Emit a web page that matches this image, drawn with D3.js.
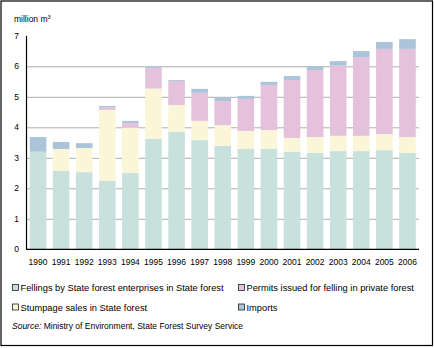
<!DOCTYPE html>
<html>
<head>
<meta charset="utf-8">
<script src="https://cdn.jsdelivr.net/npm/d3@7"></script>
<style>
  body { margin: 0; background: #fff; }
  svg { display: block; font-family: "Liberation Sans", Arial, sans-serif; }
</style>
</head>
<body>
<div id="chart"></div>
<script>
var years = ["1990", "1991", "1992", "1993", "1994", "1995", "1996", "1997", "1998",
             "1999", "2000", "2001", "2002", "2003", "2004", "2005", "2006"];

// million m3 per year
var fellings = [3.20, 2.57, 2.53, 2.24, 2.50, 3.62, 3.85, 3.58, 3.39, 3.29, 3.29, 3.19, 3.16, 3.22, 3.22, 3.25, 3.16];
var stumpage = [0.00, 0.72, 0.79, 2.33, 1.49, 1.65, 0.88, 0.63, 0.68, 0.59, 0.62, 0.46, 0.52, 0.50, 0.50, 0.53, 0.52];
var permits  = [0.00, 0.00, 0.00, 0.09, 0.15, 0.68, 0.79, 0.92, 0.79, 1.05, 1.48, 1.90, 2.20, 2.30, 2.58, 2.79, 2.89];
var imports  = [0.48, 0.23, 0.16, 0.04, 0.07, 0.05, 0.03, 0.13, 0.12, 0.10, 0.10, 0.13, 0.13, 0.15, 0.20, 0.23, 0.32];

var yTicks = [0, 1, 2, 3, 4, 5, 6, 7];

var series = [
  { key: "fellings", label: "Fellings by State forest enterprises in State forest", color: "#c9e1dd", values: fellings },
  { key: "stumpage", label: "Stumpage sales in State forest", color: "#faf6d7", values: stumpage },
  { key: "permits",  label: "Permits issued for felling in private forest", color: "#e5c2dc", values: permits },
  { key: "imports",  label: "Imports", color: "#abc4da", values: imports }
];

var W = 434, H = 348;

var svg = d3.select("#chart").append("svg")
  .attr("width", W)
  .attr("height", H);

svg.append("rect")
  .attr("x", 1).attr("y", 1)
  .attr("width", 431.5).attr("height", 344.5)
  .attr("fill", "#fff")
  .attr("stroke", "#000")
  .attr("stroke-width", 1.2);

var rows = years.map(function (yr, i) {
  var r = { year: yr };
  series.forEach(function (s) { r[s.key] = s.values[i]; });
  return r;
});

var stack = d3.stack().keys(series.map(function (s) { return s.key; }))(rows);

var x = d3.scaleBand()
  .domain(years)
  .range([26.5, 419])
  .paddingInner(0.28)
  .paddingOuter(0.14);

var y = d3.scaleLinear()
  .domain([0, 7])
  .range([249.3, 35.8]);

// gridlines
svg.append("g")
  .selectAll("line")
  .data(yTicks.filter(function (d) { return d > 0 && d < 7; }))
  .join("line")
  .attr("x1", 26.5).attr("x2", 419)
  .attr("y1", function (d) { return y(d) + 0.5; })
  .attr("y2", function (d) { return y(d) + 0.5; })
  .attr("stroke", "#adadad")
  .attr("stroke-width", 1);

// stacked bars
svg.append("g")
  .selectAll("g")
  .data(stack)
  .join("g")
  .attr("fill", function (d, i) { return series[i].color; })
  .selectAll("rect")
  .data(function (d) { return d; })
  .join("rect")
  .attr("x", function (d) { return x(d.data.year); })
  .attr("width", x.bandwidth())
  .attr("y", function (d) { return y(d[1]); })
  .attr("height", function (d) { return y(d[0]) - y(d[1]); });

// axes
svg.append("line")
  .attr("x1", 26.5).attr("x2", 26.5)
  .attr("y1", y(7)).attr("y2", y(0))
  .attr("stroke", "#000").attr("stroke-width", 1.2);
svg.append("line")
  .attr("x1", 26).attr("x2", 419)
  .attr("y1", y(0)).attr("y2", y(0))
  .attr("stroke", "#000").attr("stroke-width", 1.2);

svg.append("g")
  .selectAll("text")
  .data(yTicks)
  .join("text")
  .attr("x", 19)
  .attr("y", function (d) { return y(d) + 3; })
  .attr("text-anchor", "end")
  .attr("font-size", 8.5)
  .text(function (d) { return d; });

svg.append("g")
  .selectAll("text")
  .data(years)
  .join("text")
  .attr("x", function (d) { return x(d) + x.bandwidth() / 2; })
  .attr("y", 264.5)
  .attr("text-anchor", "middle")
  .attr("font-size", 8.5)
  .text(function (d) { return d; });

var unit = svg.append("text")
  .attr("x", 14).attr("y", 22)
  .attr("font-size", 8.5)
  .text("million m");
unit.append("tspan")
  .attr("font-size", 5.5)
  .attr("dy", -3)
  .text("3");

// legend
var legendPos = [
  { x: 12, y: 288 },
  { x: 12, y: 307.5 },
  { x: 238, y: 288 },
  { x: 238, y: 307.5 }
];

var legend = svg.append("g")
  .selectAll("g")
  .data(series)
  .join("g")
  .attr("transform", function (d, i) {
    return "translate(" + legendPos[i].x + "," + legendPos[i].y + ")";
  });

legend.append("rect")
  .attr("x", 0.5).attr("y", -3.5)
  .attr("width", 6).attr("height", 6)
  .attr("fill", function (d) { return d.color; })
  .attr("stroke", "#222")
  .attr("stroke-width", 0.8);

legend.append("text")
  .attr("x", 8.5)
  .attr("y", 3)
  .attr("font-size", 9.3)
  .text(function (d) { return d.label; });

var source = svg.append("text")
  .attr("x", 12).attr("y", 329)
  .attr("font-size", 8.5);
source.append("tspan")
  .attr("font-style", "italic")
  .text("Source:");
source.append("tspan")
  .text(" Ministry of Environment, State Forest Survey Service");
</script>
</body>
</html>
